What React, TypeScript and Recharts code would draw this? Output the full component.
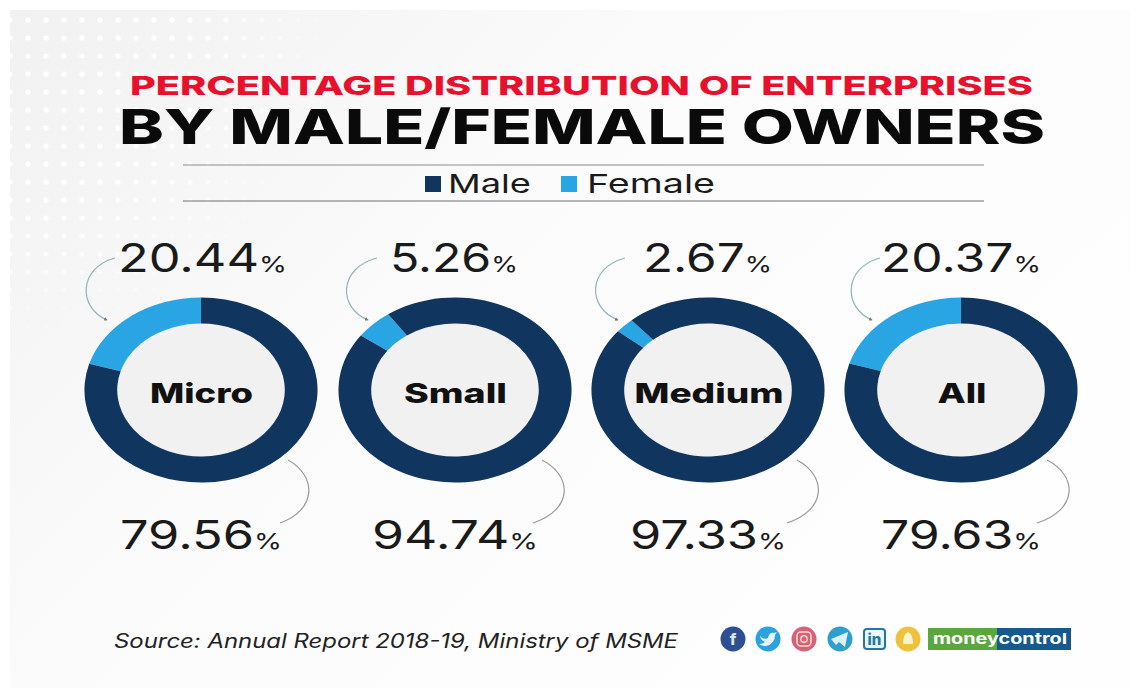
import { PieChart, Pie, Cell } from "recharts";

const categories = ["Micro", "Small", "Medium", "All"];
const femaleValues = [20.44, 5.26, 2.67, 20.37];
const maleValues = [79.56, 94.74, 97.33, 79.63];
const seriesNames = ["Female", "Male"];

const FEMALE = "#2aa5e4";
const MALE = "#10355f";
const FONT = "Inter, 'Open Sans', sans-serif";

// ring geometry: rings are stretched horizontally
const CENTERS = [200.5, 454.5, 708, 961];
const CY = 389.5;
const D = 186;
const STRETCH = 1.26;
const START = [90, 125, 131, 90];

const ARC_UP = [
  "M115 258 C78 268 78 308 107 320",
  "M377 258 C338 268 338 308 368 320",
  "M625 258 C587 268 587 308 618 320",
  "M880 258 C843 268 843 308 872 320",
];
const ARC_DOWN = [
  "M288 460 C317 476 317 510 280 523",
  "M542 460 C573 476 573 510 533 523",
  "M797 460 C827 476 827 510 787 523",
  "M1047 460 C1078 476 1078 510 1037 523",
];

const upSpan = [[118, 169], [390, 128], [643, 129], [881, 160]];
const downSpan = [[120, 162], [372, 166], [630, 156], [881, 160]];
const labelWidth = [103, 103, 149, 49];

function Ring({ index }: { index: number }) {
  const rows = [
    { name: seriesNames[0], value: femaleValues[index] },
    { name: seriesNames[1], value: maleValues[index] },
  ];
  return (
    <div
      style={{
        position: "absolute",
        left: CENTERS[index] - D / 2,
        top: CY - D / 2,
        width: D,
        height: D,
        transform: `scaleX(${STRETCH})`,
      }}
    >
      <PieChart width={D} height={D} margin={{ top: 0, right: 0, bottom: 0, left: 0 }}>
        <Pie
          data={rows}
          dataKey="value"
          nameKey="name"
          cx="50%"
          cy="50%"
          innerRadius={66.5}
          outerRadius={92.5}
          startAngle={START[index]}
          endAngle={START[index] + 360}
          stroke="none"
          isAnimationActive={false}
        >
          <Cell fill={FEMALE} />
          <Cell fill={MALE} />
        </Pie>
      </PieChart>
    </div>
  );
}

function Pct({ span, y, value }: { span: number[]; y: number; value: number }) {
  return (
    <text x={span[0]} y={y} fontFamily={FONT} fontSize={39} fill="#1a1a1a" textLength={span[1]} lengthAdjust="spacingAndGlyphs">
      {value.toFixed(2)}
      <tspan fontSize={22}>%</tspan>
    </text>
  );
}

export default function App() {
  return (
    <div style={{ position: "absolute", left: 0, top: 0, width: 1142, height: 698, background: "#ffffff", overflow: "hidden" }}>
      <svg width={1142} height={698} style={{ position: "absolute", left: 0, top: 0 }}>
        <defs>
          <linearGradient id="bg" x1="0" y1="0" x2="1" y2="0.6">
            <stop offset="0" stopColor="#f1f1f1" />
            <stop offset="0.45" stopColor="#fbfbfb" />
            <stop offset="1" stopColor="#fefefe" />
          </linearGradient>
          <radialGradient id="fade" cx="0" cy="0" r="1">
            <stop offset="0" stopColor="#fff" />
            <stop offset="0.6" stopColor="#fff" />
            <stop offset="1" stopColor="#000" />
          </radialGradient>
          <pattern id="dots" width="18" height="18" patternUnits="userSpaceOnUse" x="22" y="14">
            <circle cx="6" cy="6" r="2.6" fill="#fff" />
          </pattern>
          <mask id="dotMask">
            <rect x={10} y={10} width={330} height={340} fill="url(#fade)" />
          </mask>
          <marker id="tip" markerWidth="4" markerHeight="4" refX="2.5" refY="2" orient="auto">
            <path d="M0 0.4 L3 2 L0 3.6 Z" fill="#777" />
          </marker>
        </defs>
        <rect x={10} y={10} width={1120} height={678} fill="url(#bg)" />
        <rect x={10} y={10} width={330} height={340} fill="url(#dots)" mask="url(#dotMask)" />
        {CENTERS.map((c) => (
          <ellipse key={c} cx={c} cy={CY} rx={85} ry={67} fill="#f1f1f1" />
        ))}
      </svg>
      {categories.map((c, i) => (
        <Ring key={c} index={i} />
      ))}
      <svg width={1142} height={698} style={{ position: "absolute", left: 0, top: 0 }}>
        <text x={130} y={95} fontFamily={FONT} fontSize={26} fontWeight={800} fill="#e8112d" textLength={903} lengthAdjust="spacingAndGlyphs">
          PERCENTAGE DISTRIBUTION OF ENTERPRISES
        </text>
        <text x={119} y={144} fontFamily={FONT} fontSize={48} fontWeight={800} fill="#0a0a0a" textLength={926} lengthAdjust="spacingAndGlyphs">
          BY MALE/FEMALE OWNERS
        </text>
        <line x1={183} x2={984} y1={165} y2={165} stroke="#8a8a8a" strokeWidth={1} />
        <line x1={183} x2={984} y1={201} y2={201} stroke="#6f6f6f" strokeWidth={1} />
        <rect x={425} y={176} width={16} height={16} fill={MALE} />
        <text x={448} y={193} fontFamily={FONT} fontSize={26} fill="#1a1a1a" textLength={83} lengthAdjust="spacingAndGlyphs">Male</text>
        <rect x={561} y={176} width={16} height={16} fill={FEMALE} />
        <text x={587} y={193} fontFamily={FONT} fontSize={26} fill="#1a1a1a" textLength={128} lengthAdjust="spacingAndGlyphs">Female</text>
        {categories.map((c, i) => (
          <text key={c} x={CENTERS[i] + 1} y={403} textAnchor="middle" fontFamily={FONT} fontSize={27} fontWeight={800} fill="#111" textLength={labelWidth[i]} lengthAdjust="spacingAndGlyphs">
            {c}
          </text>
        ))}
        {femaleValues.map((v, i) => (
          <Pct key={i} span={upSpan[i]} y={272} value={v} />
        ))}
        {maleValues.map((v, i) => (
          <Pct key={i} span={downSpan[i]} y={549} value={v} />
        ))}
        {ARC_UP.map((d, i) => (
          <path key={i} d={d} fill="none" stroke="#8fb4bb" strokeWidth={1.2} markerEnd="url(#tip)" />
        ))}
        {ARC_DOWN.map((d, i) => (
          <path key={i} d={d} fill="none" stroke="#9a9a9a" strokeWidth={1.2} />
        ))}
        <text x={114} y={648} fontFamily={FONT} fontSize={19.5} fontStyle="italic" fill="#222" textLength={564} lengthAdjust="spacingAndGlyphs">
          Source: Annual Report 2018-19, Ministry of MSME
        </text>

        <circle cx={733} cy={639} r={12.5} fill="#2f4f93" />
        <text x={733} y={645} textAnchor="middle" fontFamily={FONT} fontSize={16} fontWeight={800} fill="#dfe6f3">f</text>
        <circle cx={768} cy={639} r={12.5} fill="#2aa3dc" />
        <path d="M760 636 Q764 640 768 638 Q769 632 774 633 L777 632 L775 635 Q775 644 766 646 Q762 646 759 644 Q763 644 765 642 Q761 641 760 636 Z" fill="#e6f4fb" />
        <circle cx={804} cy={639} r={12.5} fill="#d9607a" />
        <rect x={797} y={632} width={14} height={14} rx={4} fill="none" stroke="#f6dfc8" strokeWidth={1.6} />
        <circle cx={804} cy={639} r={3.2} fill="none" stroke="#f6dfc8" strokeWidth={1.4} />
        <circle cx={840} cy={639} r={12.5} fill="#2f9fd0" />
        <path d="M831 639 L848 632 L845 647 L839 642 L836 645 Z" fill="#dff1f8" />
        <rect x={863} y={628} width={23} height={22} rx={4} fill="#1f78a8" />
        <rect x={865} y={630} width={19} height={18} rx={2} fill="#eef6fa" />
        <text x={874.5} y={645} textAnchor="middle" fontFamily={FONT} fontSize={15} fontWeight={800} fill="#1f78a8">in</text>
        <circle cx={908} cy={639} r={12.5} fill="#eec23c" />
        <path d="M908 632 Q913 634 913 644 L903 644 Q903 634 908 632 Z" fill="#fdf3d0" />

        <rect x={928} y={628} width={69} height={22} fill="#5aa83c" />
        <rect x={997} y={628} width={74} height={22} fill="#14598f" />
        <text x={933} y={644} fontFamily={FONT} fontSize={15} fontWeight={700} fill="#fff" textLength={134} lengthAdjust="spacingAndGlyphs">moneycontrol</text>
      </svg>
    </div>
  );
}
